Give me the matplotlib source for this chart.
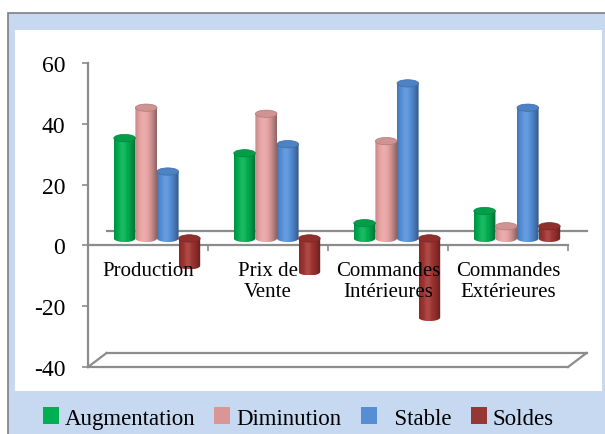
import matplotlib
matplotlib.use("Agg")
import matplotlib.pyplot as plt
import matplotlib.transforms as mtransforms
from matplotlib.patches import Rectangle, Ellipse, Polygon, Patch
from matplotlib.lines import Line2D
from matplotlib.colors import to_rgb
import numpy as np

# data
categories = ["Production", "Prix de\nVente", "Commandes\nIntérieures", "Commandes\nExtérieures"]
series = ["Augmentation", "Diminution", "  Stable", "Soldes"]
augmentation = [33, 28, 5, 9]
diminution = [43, 41, 32, 4]
stable = [22, 31, 51, 43]
soldes = [-9, -11, -26, 4]
yticks = [-40, -20, 0, 20, 40, 60]

bar_colors = ["#00B050", "#E8A2A2", "#5590DA", "#A03431"]
legend_colors = ["#00B050", "#D99694", "#558ED5", "#953735"]
grey = "#8C8C8C"

plt.rcParams["font.family"] = ["Liberation Serif", "DejaVu Serif"]
plt.rcParams["axes.unicode_minus"] = False

fig = plt.figure(figsize=(6.05, 4.35), dpi=100)
W, H = 605.0, 435.0

# light blue frame + white chart area
fig.patches.append(Rectangle((8 / W, -0.1), 1.2, (H - 14) / H + 0.1, transform=fig.transFigure,
                             facecolor="#C6D9F1", edgecolor="#7F7F7F", lw=1.2, zorder=-2))
fig.patches.append(Rectangle((15 / W, 43 / H), 587 / W, 361 / H, transform=fig.transFigure,
                             facecolor="white", edgecolor="none", zorder=-1))

ax = fig.add_axes([88 / W, 67 / H, 480 / W, 304 / H])
ax.set_facecolor("none")

# fake 3d offsets (pixels)
bar_trans = mtransforms.offset_copy(ax.transData, fig=fig, x=9, y=7, units="dots")
back_trans = mtransforms.offset_copy(ax.transData, fig=fig, x=18.5, y=14, units="dots")


def shade(base, n=64):
    base = np.array(to_rgb(base))
    t = np.linspace(0, 1, n)
    f = 0.72 + 0.33 * np.cos((t - 0.4) * np.pi)
    out = []
    for v in f:
        if v > 1:
            c = base + (1 - base) * (v - 1) * 2.2
        else:
            c = base * v
        out.append(np.clip(c, 0, 1))
    return np.array(out)[None, :, :]


def cylinder(xc, w, v, color, eh=2.4):
    top = max(v, 0)
    bot = min(v, 0)
    t = np.linspace(np.pi, 2 * np.pi, 40)
    xs = list(xc + w / 2 * np.cos(t)) + [xc + w / 2, xc - w / 2]
    ys = list(bot + eh / 2 * np.sin(t)) + [top, top]
    body = Polygon(np.column_stack([xs, ys]), closed=True, transform=bar_trans,
                   facecolor="none", edgecolor="none")
    ax.add_patch(body)
    im = ax.imshow(shade(color), extent=(xc - w / 2, xc + w / 2, bot - eh / 2, top),
                   aspect="auto", transform=bar_trans, interpolation="bilinear", zorder=3)
    im.set_clip_path(body)
    cap = np.array(to_rgb(color)) * 0.9
    ax.add_patch(Ellipse((xc, top), w, eh, transform=bar_trans, facecolor=cap,
                         edgecolor=np.array(to_rgb(color)) * 0.75, lw=0.5, zorder=4))


values = [augmentation, diminution, stable, soldes]
x = np.arange(len(categories))
width = 0.18
for k, vals in enumerate(values):
    for i, v in enumerate(vals):
        cylinder(x[i] + (k - 1.5) * width, width, v, bar_colors[k])

ax.set_xlim(-0.5, 3.5)
ax.set_ylim(-40, 60)

# back wall lines and floor
ax.plot([-0.5, 3.5], [0, 0], color=grey, lw=1.6, transform=back_trans, zorder=2, clip_on=False)
ax.plot([-0.5, 3.5], [-40, -40], color=grey, lw=1.6, transform=back_trans, zorder=2, clip_on=False)
ax.plot([-0.5, 3.5], [-40, -40], color=grey, lw=1.6, zorder=2, clip_on=False)
fig.canvas.draw()
for xe in [-0.5, 3.5]:
    p0 = ax.transData.transform((xe, -40))
    p1 = back_trans.transform((xe, -40))
    fig.add_artist(Line2D([p0[0], p1[0]], [p0[1], p1[1]], color=grey, lw=1.6,
                          transform=mtransforms.IdentityTransform()))

for s in ["top", "right"]:
    ax.spines[s].set_visible(False)
ax.spines["left"].set_color(grey)
ax.spines["left"].set_linewidth(1.6)
ax.spines["bottom"].set_position(("data", 0))
ax.spines["bottom"].set_color(grey)
ax.spines["bottom"].set_linewidth(1.6)
ax.spines["bottom"].set_zorder(2.5)

ax.set_yticks(yticks)
ax.tick_params(axis="y", length=4.3, width=1.2, color=grey, labelsize=17, pad=12)
ax.set_xticks(x)
ax.set_xticklabels(categories, fontsize=15, linespacing=1.2)
ax.tick_params(axis="x", which="major", length=0, pad=11)
ax.set_xticks([0.5, 1.5, 2.5, 3.5], minor=True)
ax.tick_params(axis="x", which="minor", length=4, width=1.2, color=grey, direction="out")
ax.xaxis.set_zorder(6)  # category names sit over the negative bars

handles = [Patch(facecolor=c, edgecolor="none") for c in legend_colors]
fig.legend(handles, series, loc="center", bbox_to_anchor=(298 / W, 16 / H), ncol=4,
           frameon=False, fontsize=16.5, handlelength=0.7, handleheight=0.7,
           handletextpad=0.25, columnspacing=0.85)

fig.savefig("out.png", dpi=100)
